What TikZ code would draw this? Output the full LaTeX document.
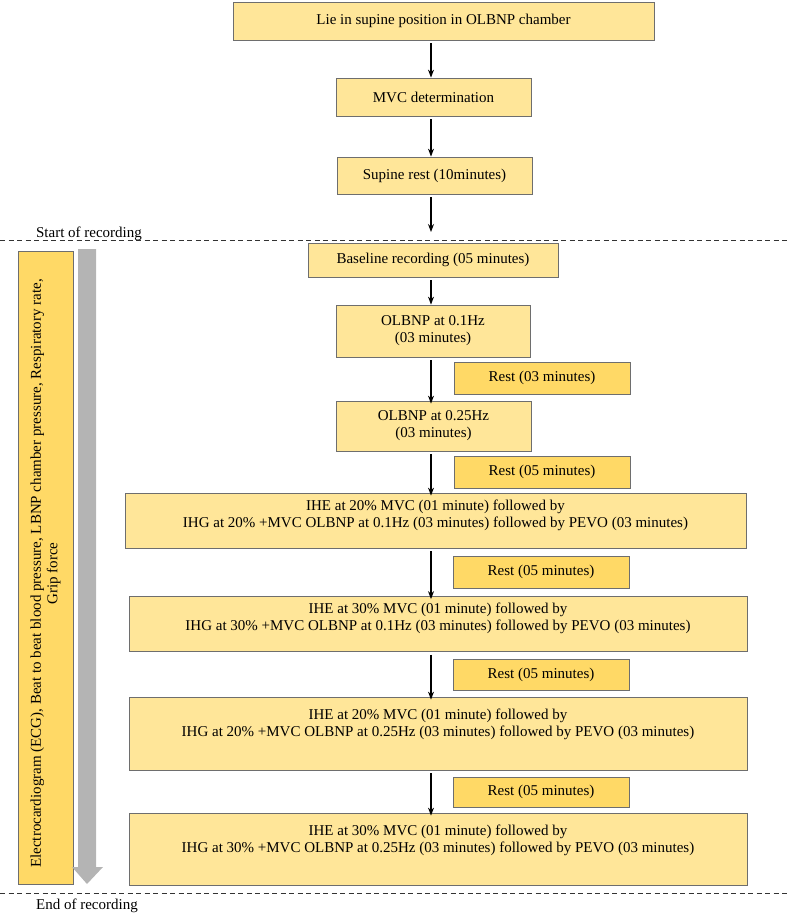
\documentclass[tikz,border=0pt]{standalone}
\usepackage{fontspec}
\setmainfont{Liberation Serif}
\usetikzlibrary{arrows.meta}
\definecolor{boxlight}{HTML}{FFE699}
\definecolor{boxdark}{HTML}{FFD966}
\definecolor{boxline}{HTML}{6E6E6E}
\definecolor{arrowgray}{RGB}{180,180,180}
\tikzset{
  base/.style={draw=boxline, line width=0.8pt, inner sep=0pt, align=center,
    font=\fontsize{15}{17}\selectfont},
  lightbox/.style={base, fill=boxlight},
  restbox/.style={base, fill=boxdark, minimum width=176pt},
  arr/.style={-{Stealth[length=8pt,width=6pt]}, line width=1.1pt, shorten <=3pt},
  sep/.style={dash pattern=on 5pt off 3.5pt, line width=0.9pt, draw=black!80},
  lbl/.style={font=\fontsize{15}{18}\selectfont, inner sep=0pt}
}
\begin{document}
\begin{tikzpicture}[x=1pt,y=-1pt]
\useasboundingbox (0,0) rectangle (789,914);

\node[lightbox, minimum width=421pt, minimum height=38pt] (b1) at (443.5,21) {Lie in supine position in OLBNP chamber};
\node[lightbox, minimum width=195pt, minimum height=38pt] (b2) at (433.5,97) {MVC determination};
\node[lightbox, minimum width=195pt, minimum height=37pt] (b3) at (434.5,175.5) {Supine rest (10minutes)};
\node[lightbox, minimum width=250pt, minimum height=34pt] (b4) at (433,260) {Baseline recording (05 minutes)};
\node[lightbox, minimum width=194pt, minimum height=52pt] (b5) at (433,331) {OLBNP at 0.1Hz\\(03 minutes)};
\node[restbox, minimum height=32pt] (r1) at (542,378) {Rest (03 minutes)};
\node[lightbox, minimum width=195pt, minimum height=50pt] (b6) at (433.5,426) {OLBNP at 0.25Hz\\(03 minutes)};
\node[restbox, minimum height=32pt] (r2) at (542,472) {Rest (05 minutes)};
\node[lightbox, minimum width=621pt, minimum height=55pt] (b7) at (435.5,520.5) {IHE at 20\% MVC (01 minute) followed by\\IHG at 20\% +MVC OLBNP at 0.1Hz (03 minutes) followed by PEVO (03 minutes)\\[-3pt]\mbox{}};
\node[restbox, minimum height=32pt] (r3) at (541,572) {Rest (05 minutes)};
\node[lightbox, minimum width=618pt, minimum height=55pt] (b8) at (438,624) {IHE at 30\% MVC (01 minute) followed by\\IHG at 30\% +MVC OLBNP at 0.1Hz (03 minutes) followed by PEVO (03 minutes)\\[-3pt]\mbox{}};
\node[restbox, minimum height=31pt] (r4) at (541,674.5) {Rest (05 minutes)};
\node[lightbox, minimum width=618pt, minimum height=73pt] (b9) at (438,733.5) {IHE at 20\% MVC (01 minute) followed by\\IHG at 20\% +MVC OLBNP at 0.25Hz (03 minutes) followed by PEVO (03 minutes)\\[4pt]\mbox{}};
\node[restbox, minimum height=30pt] (r5) at (541,792) {Rest (05 minutes)};
\node[lightbox, minimum width=618pt, minimum height=72pt] (b10) at (438,849) {IHE at 30\% MVC (01 minute) followed by\\IHG at 30\% +MVC OLBNP at 0.25Hz (03 minutes) followed by PEVO (03 minutes)\\[4pt]\mbox{}};

% left measurement box
\node[base, fill=boxdark, rotate=90, minimum width=633pt, minimum height=55pt] (left) at (45.5,567.5) {};
\node[lbl, rotate=90, align=center, font=\fontsize{15}{16.5}\selectfont] (lefttxt) at (left.center) [xshift=-6pt]
  {Electrocardiogram (ECG), Beat to beat blood pressure, LBNP chamber pressure, Respiratory rate,\\Grip force};
% gray time arrow
\fill[arrowgray] (78,249) -- (96,249) -- (96,867) -- (103,867) -- (87,884) -- (72,867) -- (78,867) -- cycle;

% separators
\coordinate (s1l) at (0,240); \coordinate (s1r) at (789,240);
\coordinate (s2l) at (0,893); \coordinate (s2r) at (789,893);
\draw[sep] (s1l) -- (s1r);
\draw[sep] (s2l) -- (s2r);
\node[lbl, anchor=base] (start) at (89,237) {Start of recording};
\node[lbl, anchor=base] (end) at (87,909) {End of recording};

% flow arrows
\coordinate (ax) at (431,0);
\coordinate (a3end) at (431,232);
\draw[arr] (b1.south -| ax) -- (b2.north -| ax);
\draw[arr] (b2.south -| ax) -- (b3.north -| ax);
\draw[arr] (b3.south -| ax) -- (a3end);
\draw[arr] (b4.south -| ax) -- (b5.north -| ax);
\draw[arr] (b5.south -| ax) -- ([yshift=-3pt]b6.north -| ax);
\draw[arr] (b6.south -| ax) -- ([yshift=-3pt]b7.north -| ax);
\draw[arr] (b7.south -| ax) -- ([yshift=-3pt]b8.north -| ax);
\draw[arr] (b8.south -| ax) -- ([yshift=-3pt]b9.north -| ax);
\draw[arr] (b9.south -| ax) -- ([yshift=-3pt]b10.north -| ax);
\end{tikzpicture}
\end{document}
